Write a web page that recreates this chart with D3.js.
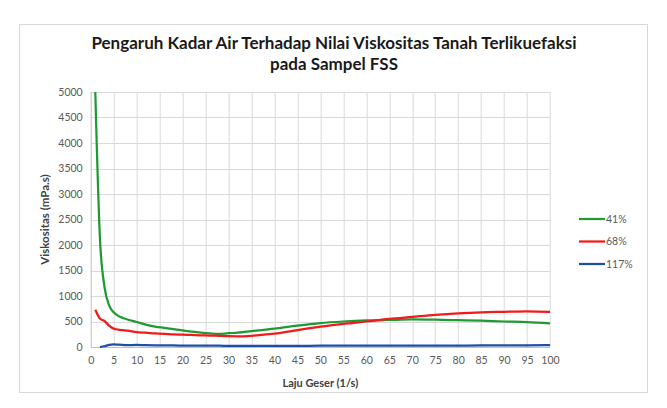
<!DOCTYPE html>
<html>
<head>
<meta charset="utf-8">
<script src="https://cdn.jsdelivr.net/npm/d3@7"></script>
<style>
  body { margin: 0; background: #fff; }
  text { font-family: Lato, "Open Sans", sans-serif; }
</style>
</head>
<body>
<div id="general"></div>
<script>
const w = 667, h = 408;
const m = { l: 90.7, r: 117, t: 92, b: 61 };
m.w = w - m.l - m.r;
m.h = h - m.t - m.b;

// shear rate (1/s)
const shearRate = [1, 2, 3, 4, 5, 6, 7, 8, 10, 12, 14, 16, 18, 20, 22, 24, 26, 28, 30, 32, 35, 40, 45, 50, 55, 60, 65, 70, 75, 80, 85, 90, 95, 100];
const seriesNames = ["41%", "68%", "117%"];
const v41 = [5000, 2150, 1180, 820, 680, 610, 570, 540, 490, 440, 400, 375, 350, 325, 300, 280, 265, 255, 270, 280, 310, 360, 420, 470, 500, 520, 530, 540, 535, 525, 515, 500, 490, 465];
const v68 = [730, 560, 510, 420, 360, 340, 330, 320, 290, 280, 265, 255, 248, 242, 236, 230, 225, 218, 212, 210, 220, 260, 330, 400, 455, 500, 550, 590, 630, 660, 680, 690, 700, 690];
const v117 = [null, 0, 15, 40, 50, 45, 40, 35, 40, 35, 32, 30, 30, 28, 27, 26, 25, 25, 24, 24, 24, 24, 24, 25, 25, 25, 25, 26, 27, 28, 30, 30, 32, 35];
const yTicks = d3.range(0, 5001, 500);
const xTicks = d3.range(0, 101, 5);
const colors = ["#1f9a33", "#f21a1a", "#1f4ea6"];

const svg = d3.select("#general").append("svg").attr("width", w).attr("height", h);

svg.append("rect")
  .attr("x", 19.5).attr("y", 24.5).attr("width", 628).attr("height", 368)
  .attr("fill", "#fff").attr("stroke", "#d9d9d9");

const g = svg.append("g").attr("transform", `translate(${m.l},${m.t})`);

const x = d3.scaleLinear().domain([0, 100]).range([0, m.w]);
const y = d3.scaleLinear().domain([0, 5000]).range([m.h, 0]);

// grid
g.append("g").selectAll("line.h")
  .data(yTicks)
  .join("line")
  .attr("x1", 0).attr("x2", m.w)
  .attr("y1", d => Math.round(y(d)) + 0.5).attr("y2", d => Math.round(y(d)) + 0.5)
  .attr("stroke", d => d === 0 ? "#bfbfbf" : "#d9d9d9");
g.append("g").selectAll("line.v")
  .data(xTicks)
  .join("line")
  .attr("y1", 0).attr("y2", m.h)
  .attr("x1", d => Math.round(x(d)) + 0.5).attr("x2", d => Math.round(x(d)) + 0.5)
  .attr("stroke", d => d === 0 ? "#bfbfbf" : "#d9d9d9");

// axes labels
const yAxis = g.append("g").call(d3.axisLeft(y).tickValues(yTicks).tickFormat(d3.format("d")).tickSize(0).tickPadding(8));
const xAxis = g.append("g").attr("transform", `translate(0,${m.h})`)
  .call(d3.axisBottom(x).tickValues(xTicks).tickFormat(d3.format("d")).tickSize(0).tickPadding(10));
[yAxis, xAxis].forEach(a => {
  a.select(".domain").remove();
  a.selectAll("text").attr("fill", "#595959").style("font-size", "10.5px").style("font-family", "Lato, sans-serif");
});

// lines
const allSeries = [v41, v68, v117];
const line = d3.line()
  .defined(d => d[1] !== null)
  .x(d => x(d[0])).y(d => y(d[1]))
  .curve(d3.curveMonotoneX);

g.append("g").selectAll("path")
  .data(allSeries)
  .join("path")
  .attr("d", vals => line(shearRate.map((s, i) => [s, vals[i]])))
  .attr("fill", "none")
  .attr("stroke", (d, i) => colors[i])
  .attr("stroke-width", 2.25)
  .attr("stroke-linejoin", "round");

// legend
const leg = svg.append("g").attr("transform", "translate(579,219)");
const item = leg.selectAll("g").data(seriesNames).join("g")
  .attr("transform", (d, i) => `translate(0,${i * 22.5})`);
item.append("line").attr("x1", 0).attr("x2", 26).attr("y1", 0).attr("y2", 0)
  .attr("stroke", (d, i) => colors[i]).attr("stroke-width", 2.25);
item.append("text").attr("x", 27).attr("y", 0).attr("dy", "0.35em")
  .attr("fill", "#595959").style("font-size", "10.5px").text(d => d);

// titles
svg.append("text").attr("x", 334).attr("y", 49).attr("text-anchor", "middle")
  .attr("font-weight", "bold").attr("fill", "#1a1a1a").style("font-size", "17px")
  .text("Pengaruh Kadar Air Terhadap Nilai Viskositas Tanah Terlikuefaksi");
svg.append("text").attr("x", 334).attr("y", 70).attr("text-anchor", "middle")
  .attr("font-weight", "bold").attr("fill", "#1a1a1a").style("font-size", "17px")
  .text("pada Sampel FSS");

svg.append("text").attr("x", m.l + m.w / 2).attr("y", 387).attr("text-anchor", "middle")
  .attr("font-weight", "bold").attr("fill", "#404040").style("font-size", "11px")
  .text("Laju Geser (1/s)");
svg.append("g").attr("transform", `translate(45,${m.t + m.h / 2})`)
  .append("text").attr("transform", "rotate(-90)").attr("dy", "0.35em")
  .attr("text-anchor", "middle").attr("font-weight", "bold").attr("fill", "#404040")
  .style("font-size", "11.5px")
  .text("Viskositas (mPa.s)");
</script>
</body>
</html>
